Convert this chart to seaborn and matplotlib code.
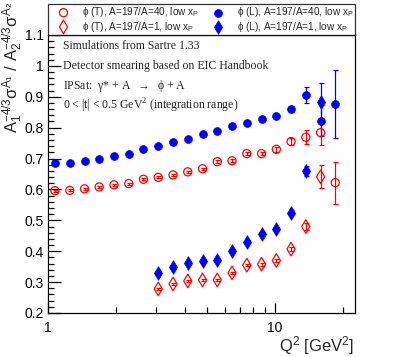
import numpy as np
import pandas as pd
import matplotlib
matplotlib.use("Agg")
import matplotlib.pyplot as plt
import seaborn as sns
from matplotlib.ticker import FixedLocator, FixedFormatter, NullFormatter, MultipleLocator

# ---------------- data ----------------
q2 = [1.073, 1.247, 1.448, 1.681, 1.953, 2.268, 2.634, 3.060, 3.553, 4.127,
      4.793, 5.567, 6.465, 7.508, 8.719, 10.13, 11.76, 13.66, 15.87, 18.42]

# phi (L), A=197/A=40 (blue filled circles)
l40 = [0.684, 0.687, 0.691, 0.699, 0.708, 0.716, 0.730, 0.741, 0.754, 0.763,
       0.781, 0.788, 0.806, 0.816, 0.829, 0.837, 0.860, 0.906, 0.823, 0.878]
l40_err = [0.003, 0.003, 0.003, 0.003, 0.003, 0.003, 0.003, 0.003, 0.003, 0.003,
           0.003, 0.003, 0.004, 0.004, 0.005, 0.006, 0.009, 0.025, 0.05, 0.11]

# phi (T), A=197/A=40 (red open circles)
t40 = [0.596, 0.597, 0.602, 0.608, 0.615, 0.619, 0.633, 0.639, 0.647, 0.657,
       0.667, 0.690, 0.693, 0.716, 0.716, 0.730, 0.755, 0.769, 0.784, 0.622]
t40_err = [0.003, 0.003, 0.003, 0.003, 0.003, 0.003, 0.003, 0.003, 0.003, 0.003,
           0.003, 0.004, 0.004, 0.005, 0.005, 0.008, 0.012, 0.023, 0.04, 0.068]

# A=197/A=1 series start at the 8th Q2 bin
q2_a1 = q2[7:19]
l1 = [0.331, 0.348, 0.363, 0.368, 0.373, 0.402, 0.431, 0.456, 0.472, 0.524,
      0.660, 0.884]
l1_err = [0.004, 0.004, 0.004, 0.004, 0.004, 0.005, 0.005, 0.006, 0.007, 0.008,
          0.015, 0.06]
t1 = [0.278, 0.294, 0.304, 0.307, 0.307, 0.330, 0.355, 0.358, 0.370, 0.407,
      0.480, 0.641]
t1_err = [0.003, 0.003, 0.003, 0.003, 0.003, 0.004, 0.004, 0.005, 0.005, 0.007,
          0.010, 0.037]

labels = {
    "t40": r"$\mathregular{\phi}$ (T), A=197/A=40, low x$_\mathregular{P}$",
    "t1": r"$\mathregular{\phi}$ (T), A=197/A=1, low x$_\mathregular{P}$",
    "l40": r"$\mathregular{\phi}$ (L), A=197/A=40, low x$_\mathregular{P}$",
    "l1": r"$\mathregular{\phi}$ (L), A=197/A=1, low x$_\mathregular{P}$",
}
annotations = [
    "Simulations from Sartre 1.33",
    "Detector smearing based on EIC Handbook",
    r"IPSat:  $\mathregular{\gamma}$* + A  $\mathregular{\rightarrow}$  $\mathregular{\phi}$ + A",
    r"0 < |t| < 0.5 GeV$^\mathregular{2}$ (integration range)",
]
ytick_vals = [0.2, 0.3, 0.4, 0.5, 0.6, 0.7, 0.8, 0.9, 1.0, 1.1]
ytick_labels = ["0.2", "0.3", "0.4", "0.5", "0.6", "0.7", "0.8", "0.9", "1", "1.1"]

# ---------------- style ----------------
sns.set_theme(style="ticks")
plt.rcParams["font.family"] = ["Liberation Sans", "DejaVu Sans"]
plt.rcParams["mathtext.fontset"] = "custom"
plt.rcParams["mathtext.rm"] = "Liberation Sans"
plt.rcParams["mathtext.it"] = "Liberation Sans:italic"

RED = "#ff0000"
BLUE = "#0000ff"

fig = plt.figure(figsize=(3.95, 3.57), dpi=100)
ax = fig.add_axes([48 / 395, 1 - 313 / 357, 307 / 395, 278 / 357])

def series(x, y, err, color, marker, filled, size, label):
    df = pd.DataFrame({"x": x, "y": y})
    ax.errorbar(x, y, yerr=err, fmt="none", ecolor=color, elinewidth=0.9,
                capsize=1.8, capthick=0.9, zorder=2)
    if filled:
        sns.scatterplot(data=df, x="x", y="y", ax=ax, marker=marker, s=size,
                        color=color, edgecolor=color, linewidth=0.5,
                        label=label, zorder=3)
    else:
        sns.scatterplot(data=df, x="x", y="y", ax=ax, marker=marker, s=size,
                        color=color, facecolor="none", edgecolor=color,
                        linewidth=0.9, label=label, zorder=3)

series(q2, t40, t40_err, RED, "o", False, 34, labels["t40"])
series(q2_a1, t1, t1_err, RED, "d", False, 48, labels["t1"])
series(q2, l40, l40_err, BLUE, "o", True, 32, labels["l40"])
series(q2_a1, l1, l1_err, BLUE, "d", True, 48, labels["l1"])

ax.set_xscale("log")
ax.set_xlim(1, 22.5)
ax.set_ylim(0.2, 1.1)

ax.xaxis.set_major_locator(FixedLocator([1, 10]))
ax.xaxis.set_major_formatter(FixedFormatter(["1", "10"]))
ax.xaxis.set_minor_locator(FixedLocator([2, 3, 4, 5, 6, 7, 8, 9, 20]))
ax.xaxis.set_minor_formatter(NullFormatter())
ax.set_yticks(ytick_vals)
ax.set_yticklabels(ytick_labels)
ax.yaxis.set_minor_locator(MultipleLocator(0.02))

ax.tick_params(axis="both", which="both", direction="in", colors="black",
               top=False, right=False, labelsize=10)
ax.tick_params(axis="y", which="major", length=9, width=0.9, pad=3)
ax.tick_params(axis="y", which="minor", length=4.5, width=0.9)
ax.tick_params(axis="x", which="major", length=7, width=0.9, pad=6)
ax.tick_params(axis="x", which="minor", length=4, width=0.9)
for sp in ax.spines.values():
    sp.set_visible(True)
    sp.set_color("black")
    sp.set_linewidth(0.9)

ax.set_xlabel("")
ax.set_ylabel("")
fig.text(354 / 395, 1 - 351 / 357, r"Q$^\mathregular{2}$ [GeV$^\mathregular{2}$]",
         ha="right", va="baseline", fontsize=12)
fig.text(13 / 395, 1 - 2 / 357,
         r"A$_\mathregular{1}^\mathregular{-4/3}$$\mathregular{\sigma}^\mathregular{A_1}$ / "
         r"A$_\mathregular{2}^\mathregular{-4/3}$$\mathregular{\sigma}^\mathregular{A_2}$",
         rotation=90, ha="center", va="top", fontsize=12)

for i, txt in enumerate(annotations):
    fig.text(63 / 395, 1 - (46 + 20 * i) / 357, txt, ha="left", va="center",
             fontsize=8.5, family=["Liberation Serif", "DejaVu Serif"])

handles, labs = ax.get_legend_handles_labels()
leg = ax.legend(handles, labs, ncol=2, loc="lower left",
                bbox_to_anchor=(0, 1, 1, 31 / 278), mode="expand",
                borderaxespad=0, frameon=True, fancybox=False,
                edgecolor="black", handletextpad=0.45,
                columnspacing=0.3, handlelength=2.8, borderpad=0.15,
                labelspacing=0.02, fontsize=7.2)
leg.get_frame().set_linewidth(0.9)

fig.savefig("out.png", dpi=100)
